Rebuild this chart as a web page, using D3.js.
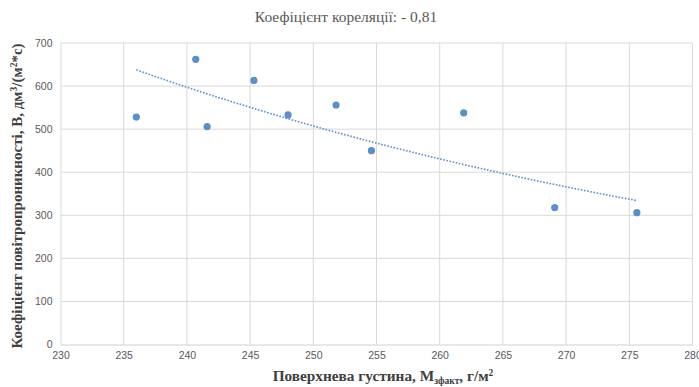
<!DOCTYPE html>
<html><head><meta charset="utf-8">
<script src="https://cdn.jsdelivr.net/npm/d3@7"></script>
<style>body{margin:0;background:#fff}svg{display:block}
.serif{font-family:"Liberation Serif","Times New Roman","DejaVu Serif",serif}</style>
</head><body>
<svg id="c" width="699" height="387"></svg>
<script>
const density = [236.0, 240.7, 241.6, 245.3, 248.0, 251.8, 254.6, 261.9, 269.1, 275.6];
const permeability = [528, 662, 506, 613, 533, 556, 450, 538, 318, 306];
const xTicks = [230, 235, 240, 245, 250, 255, 260, 265, 270, 275, 280];
const yTicks = [0, 100, 200, 300, 400, 500, 600, 700];
const title = "Коефіцієнт кореляції: - 0,81";

const svg = d3.select("#c");
const L = 60.5, R = 692.5, T = 43, B = 344.5;
const x = d3.scaleLinear().domain([230, 280]).range([L, R]);
const y = d3.scaleLinear().domain([0, 700]).range([B, T]);

// gridlines
svg.append("g").selectAll("line").data(yTicks.slice(1)).join("line")
  .attr("x1", L).attr("x2", R).attr("y1", d => y(d)).attr("y2", d => y(d))
  .attr("stroke", "#d9d9d9").attr("stroke-width", 1);
svg.append("g").selectAll("line").data(xTicks.slice(1)).join("line")
  .attr("y1", T).attr("y2", B).attr("x1", d => x(d)).attr("x2", d => x(d))
  .attr("stroke", "#d9d9d9").attr("stroke-width", 1);

// axes
const xa = svg.append("g").attr("transform", `translate(0,${B})`)
  .call(d3.axisBottom(x).tickValues(xTicks).tickSize(0).tickPadding(7));
const ya = svg.append("g").attr("transform", `translate(${L},0)`)
  .call(d3.axisLeft(y).tickValues(yTicks).tickSize(0).tickPadding(8));
[xa, ya].forEach(a => {
  a.selectAll("text").attr("fill", "#595959").attr("font-family", "Liberation Sans, Arial, sans-serif").attr("font-size", 10.5);
});
xa.select(".domain").attr("stroke", "#d0d0d0");
ya.select(".domain").attr("stroke", "#d9d9d9");

// exponential trendline (least squares on ln y)
const n = density.length;
const mx = d3.mean(density), ly = permeability.map(Math.log), my = d3.mean(ly);
let sxy = 0, sxx = 0;
for (let i = 0; i < n; i++) { sxy += (density[i]-mx)*(ly[i]-my); sxx += (density[i]-mx)**2; }
const b = sxy / sxx, a = my - b*mx;
const x0 = d3.min(density), x1 = d3.max(density);
const trend = d3.range(0, 41).map(i => { const xv = x0 + (x1-x0)*i/40; return [xv, Math.exp(a + b*xv)]; });
svg.append("path").datum(trend)
  .attr("d", d3.line().x(d => x(d[0])).y(d => y(d[1])))
  .attr("fill", "none").attr("stroke", "#5b8fc7").attr("stroke-width", 1.6)
  .attr("stroke-dasharray", "1.6,1.6");

// points
svg.append("g").selectAll("circle").data(density.map((d, i) => [d, permeability[i]])).join("circle")
  .attr("cx", d => x(d[0])).attr("cy", d => y(d[1])).attr("r", 3.6)
  .attr("fill", "#5b8fc7");

// title
svg.append("text").attr("class", "serif").attr("x", 346).attr("y", 22).attr("text-anchor", "middle")
  .attr("font-size", 15.5)
  .attr("fill", "#595959").text(title);

// x label
const xl = svg.append("text").attr("class", "serif").attr("x", 383).attr("y", 381).attr("text-anchor", "middle")
  .attr("font-size", 15.3)
  .attr("font-weight", "bold").attr("fill", "#404040");
xl.append("tspan").text("Поверхнева густина, M");
xl.append("tspan").attr("font-size", 9.5).attr("dy", 3).text("зфакт");
xl.append("tspan").attr("dy", -3).text(", г/м");
xl.append("tspan").attr("font-size", 9.5).attr("dy", -5).text("2");

// y label
const yl = svg.append("text").attr("class", "serif").attr("transform", "translate(22,196) rotate(-90)").attr("text-anchor", "middle")
  .attr("font-size", 15)
  .attr("font-weight", "bold").attr("fill", "#404040");
yl.append("tspan").text("Коефіцієнт повітропроникності, В, дм");
yl.append("tspan").attr("font-size", 9.5).attr("dy", -5).text("3");
yl.append("tspan").attr("dy", 5).text("/(м");
yl.append("tspan").attr("font-size", 9.5).attr("dy", -5).text("2");
yl.append("tspan").attr("dy", 5).text("*с)");
</script>
</body></html>
